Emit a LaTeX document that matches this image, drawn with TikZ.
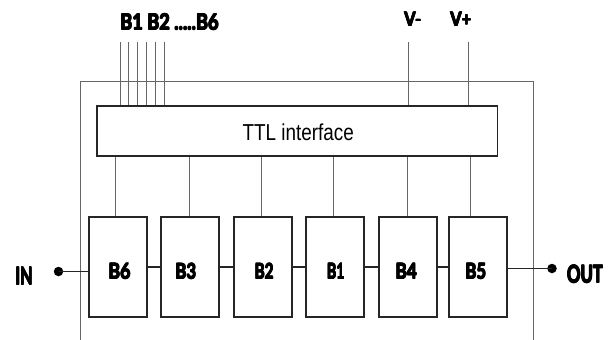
\documentclass[tikz,border=0pt]{standalone}
\usepackage{fontspec}
\setmainfont{Liberation Sans}
\newfontfamily\labfont{Lato}
\usepackage{graphicx}
\newcommand{\fbx}[1]{\makebox[0pt][l]{#1}\makebox[0pt][l]{\kern0.25pt#1}\makebox[0pt][l]{\kern0.5pt#1}%
  \makebox[0pt][l]{\raisebox{0.25pt}{#1}}\makebox[0pt][l]{\raisebox{0.25pt}{\kern0.25pt#1}}%
  \makebox[0pt][l]{\raisebox{0.25pt}{\kern0.5pt#1}}\phantom{#1}\kern0.5pt}
\newcommand{\lab}[3]{\resizebox{#1pt}{#2pt}{\labfont\bfseries\fbx{#3}}}
\begin{document}
\begin{tikzpicture}[x=1pt,y=-1pt,
  thinline/.style={draw=black!60,line width=0.8pt},
  boxline/.style={draw=black!85,line width=1.6pt},
  blockbox/.style={boxline,fill=white,minimum width=58pt,minimum height=100pt,inner sep=0pt},
  lbl/.style={inner sep=0pt,anchor=base},
  dotn/.style={circle,fill=black,inner sep=0pt,minimum size=9.5pt}]
\useasboundingbox (0,0) rectangle (614,340);
% outer frame
\draw[thinline] (80,340) -- (80,81) -- (533.7,81) -- (533.7,340);
% TTL interface
\node[boxline,fill=white,minimum width=400.7pt,minimum height=50pt,inner sep=0pt] (ttl) at (297.3,131) {};
\node[lbl] (ttlt) at (298.3,140) {\resizebox{111.3pt}{16.7pt}{TTL interface}};
% blocks
\node[blockbox] (b6) at (118,267) {};
\node[blockbox] (b3) at (190,267) {};
\node[blockbox] (b2) at (263,267) {};
\node[blockbox] (b1) at (335,267) {};
\node[blockbox] (b4) at (408,267) {};
\node[blockbox] (b5) at (478,267) {};
\node[lbl] (b6t) at (119.5,279.2) {\lab{23}{16}{B6}};
\node[lbl] (b3t) at (185.8,279.2) {\lab{21.7}{16}{B3}};
\node[lbl] (b2t) at (264.2,279.2) {\lab{19.7}{16}{B2}};
\node[lbl] (b1t) at (335.8,279.2) {\lab{18.3}{16}{B1}};
\node[lbl] (b4t) at (406.2,279.2) {\lab{22.3}{16}{B4}};
\node[lbl] (b5t) at (475.8,279.2) {\lab{21.7}{16}{B5}};
% control lines TTL -> blocks
\draw[thinline] ([xshift=-2.3pt]b6.north) -- ([xshift=-2.3pt]b6.north |- ttl.south);
\draw[thinline] ([xshift=-1pt]b3.north) -- ([xshift=-1pt]b3.north |- ttl.south);
\draw[thinline] ([xshift=-2pt]b2.north) -- ([xshift=-2pt]b2.north |- ttl.south);
\draw[thinline] ([xshift=-1.3pt]b1.north) -- ([xshift=-1.3pt]b1.north |- ttl.south);
\draw[thinline] ([xshift=-1pt]b4.north) -- ([xshift=-1pt]b4.north |- ttl.south);
\draw[thinline] ([xshift=-8pt]b5.north) -- ([xshift=-8pt]b5.north |- ttl.south);
% top bus lines
\foreach \i/\x in {1/120,2/128.7,3/137.7,4/146.7,5/155.3,6/164}{
  \coordinate (t\i) at (\x,42);
  \draw[thinline] (t\i) -- (t\i |- ttl.north);
}
\coordinate (vm) at (408,42);
\coordinate (vp) at (468,42);
\draw[thinline] (vm) -- (vm |- ttl.north);
\draw[thinline] (vp) -- (vp |- ttl.north);
% labels
\node[lbl] (bl) at (169.5,30) {\lab{99}{16.7}{B1 B2 .....B6}};
\node[lbl] (vml) at (412.8,26.7) {\lab{17.7}{15}{V-}};
\node[lbl] (vpl) at (460.8,26.7) {\lab{21.7}{15}{V+}};
% signal chain
\draw[boxline] (b6.east) -- (b3.west);
\draw[boxline] (b3.east) -- (b2.west);
\draw[boxline] (b2.east) -- (b1.west);
\draw[boxline] (b1.east) -- (b4.west);
\draw[boxline] (b4.east) -- (b5.west);
\node[dotn] (indot) at (58.5,271.5) {};
\node[dotn] (outdot) at (552,268.5) {};
\draw[boxline] (indot.center) -- (indot -| b6.west);
\draw[boxline] (outdot -| b5.east) -- (outdot.center);
\node[lbl] (inl) at (24,285) {\lab{18}{18.3}{IN}};
\node[lbl] (outl) at (585,283.3) {\lab{36.6}{18.3}{OUT}};
\end{tikzpicture}
\end{document}
